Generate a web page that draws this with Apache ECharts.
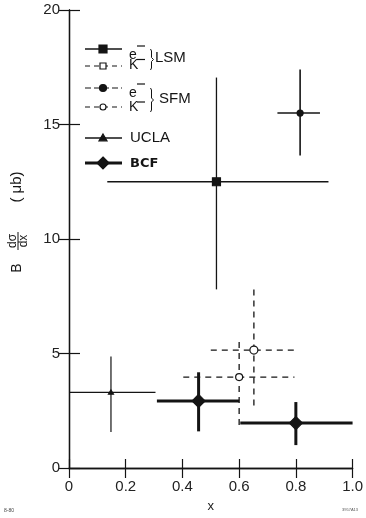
<!DOCTYPE html>
<html>
<head>
<meta charset="utf-8">
<script src="https://cdn.jsdelivr.net/npm/echarts@6/dist/echarts.min.js"></script>
<style>
  html, body { margin: 0; padding: 0; background: #fff; }
  #chart { width: 366px; height: 518px; }
</style>
</head>
<body>
<div id="chart"></div>
<script>
// Axis ticks
const xTickLabels = ['0', '0.2', '0.4', '0.6', '0.8', '1.0'];
const yTickLabels = ['0', '5', '10', '15', '20'];

// Each measurement row: [x, value, xLow, xHigh, valueLow, valueHigh]
const lsmElectron = [[0.52, 12.5, 0.135, 0.915, 7.8, 17.05]];
const lsmKaon     = [[0.652, 5.15, 0.50, 0.795, 2.65, 7.8]];
const sfmElectron = [[0.815, 15.5, 0.735, 0.885, 13.65, 17.4]];
const sfmKaon     = [[0.60, 3.97, 0.403, 0.795, 1.85, 5.5]];
const ucla        = [[0.148, 3.3, 0.0, 0.305, 1.57, 4.87]];
const bcf         = [[0.457, 2.93, 0.31, 0.60, 1.6, 4.18],
                     [0.80, 1.96, 0.604, 1.0, 1.0, 2.88]];

const INK = '#141414';
const FONT = '"Liberation Sans", Arial, sans-serif';

// Marker shapes shared by the plotted points and the key
function marker(kind, cx, cy, size, filled) {
  const style = { fill: filled ? INK : '#fff', stroke: INK, lineWidth: 1.2 };
  const h = size / 2;
  if (kind === 'square') {
    return { type: 'rect', shape: { x: cx - h, y: cy - h, width: size, height: size }, style, z2: 5 };
  }
  if (kind === 'circle') {
    return { type: 'circle', shape: { cx, cy, r: h }, style, z2: 5 };
  }
  if (kind === 'triangle') {
    return { type: 'polygon', shape: { points: [[cx, cy - h], [cx + h, cy + h * 0.7], [cx - h, cy + h * 0.7]] }, style, z2: 5 };
  }
  // diamond
  return { type: 'polygon', shape: { points: [[cx, cy - h], [cx + h, cy], [cx, cy + h], [cx - h, cy]] }, style, z2: 5 };
}

// Cross-shaped error bars with a marker at the central value
function errorBars(opt) {
  return function (params, api) {
    const x = api.value(0), y = api.value(1);
    const p = api.coord([x, y]);
    const l = api.coord([api.value(2), y]);
    const r = api.coord([api.value(3), y]);
    const b = api.coord([x, api.value(4)]);
    const t = api.coord([x, api.value(5)]);
    const ls = { stroke: INK, lineWidth: opt.width, lineDash: opt.dash || null, fill: null };
    return {
      type: 'group',
      children: [
        { type: 'line', shape: { x1: l[0], y1: l[1], x2: r[0], y2: r[1] }, style: ls },
        { type: 'line', shape: { x1: t[0], y1: t[1], x2: b[0], y2: b[1] }, style: ls },
        marker(opt.symbol, p[0], p[1], opt.size, opt.filled)
      ]
    };
  };
}

function errSeries(name, data, opt, z) {
  return {
    type: 'custom', name, data, z: z || 2,
    renderItem: errorBars(opt),
    encode: { x: 0, y: 1 },
    clip: false
  };
}

const DASH = [6, 5];

// Key (top-left inside the frame)
const keyRows = [
  { y: 49,  dash: null, width: 1.4, symbol: 'square',   size: 8,  filled: true },
  { y: 66,  dash: [5, 4], width: 1.2, symbol: 'square', size: 6,  filled: false },
  { y: 88,  dash: [6, 3], width: 1.2, symbol: 'circle', size: 7,  filled: true },
  { y: 107, dash: [5, 4], width: 1.2, symbol: 'circle', size: 6,  filled: false },
  { y: 138, dash: null, width: 1.4, symbol: 'triangle', size: 8,  filled: true },
  { y: 163, dash: null, width: 3,   symbol: 'diamond',  size: 12, filled: true }
];

const graphics = [];
keyRows.forEach(k => {
  graphics.push({ type: 'line', shape: { x1: 85, y1: k.y, x2: 122, y2: k.y },
    style: { stroke: INK, lineWidth: k.width, lineDash: k.dash } });
  graphics.push(marker(k.symbol, 103, k.y, k.size, k.filled));
});

function txt(x, y, text, size, extra) {
  return {
    type: 'text', x, y,
    style: Object.assign({ text, fill: INK, font: size + 'px ' + FONT, textAlign: 'left', textVerticalAlign: 'middle' }, extra || {})
  };
}

// particle labels with raised minus signs
[['e', 55, 46], ['K', 65, 59.5], ['e', 93, 84], ['K', 107.5, 102]].forEach(([s, y, my]) => {
  graphics.push(txt(129, y, s, 14));
  graphics.push({ type: 'line', shape: { x1: 137, y1: my, x2: 145, y2: my }, style: { stroke: INK, lineWidth: 1.2 } });
});

// braces grouping e- / K- pairs
function brace(top, bottom) {
  const m = (top + bottom) / 2;
  return {
    type: 'polyline',
    shape: { points: [[150.5, top], [151.5, top + 2], [151.5, m - 2], [153.5, m],
                      [151.5, m + 2], [151.5, bottom - 2], [150.5, bottom]] },
    style: { stroke: INK, lineWidth: 1, fill: null }
  };
}
graphics.push(brace(49, 70));
graphics.push(brace(88, 112));
graphics.push(txt(155, 58, 'LSM', 15));
graphics.push(txt(159, 99, 'SFM', 15));
graphics.push(txt(130, 138, 'UCLA', 15));
graphics.push(txt(130, 164, 'BCF', 13, { font: '900 13px "DejaVu Sans", sans-serif' }));

// vertical axis title: B dσ/dx (μb)
const rot = Math.PI / 2;
function rtxt(x, y, text, size) {
  return { type: 'text', x, y, rotation: rot,
    style: { text, fill: INK, font: size + 'px ' + FONT, textAlign: 'center', textVerticalAlign: 'middle' } };
}
graphics.push(rtxt(17, 268, 'B', 14));
graphics.push(rtxt(12.5, 241, 'dσ', 12));
graphics.push(rtxt(24, 241, 'dx', 12));
graphics.push({ type: 'line', shape: { x1: 18, y1: 232, x2: 18, y2: 250 }, style: { stroke: INK, lineWidth: 1 } });
graphics.push(rtxt(17, 187, '( μb)', 15));

// figure reference marks
graphics.push({ type: 'text', x: 4, y: 511, style: { text: '8-80', fill: '#444', font: '5px ' + FONT, textVerticalAlign: 'middle' } });
graphics.push({ type: 'text', x: 342, y: 510, style: { text: '3957A13', fill: '#555', font: '4px ' + FONT, textVerticalAlign: 'middle' } });

const axisLine = { show: true, lineStyle: { color: INK, width: 1.3 } };

const option = {
  backgroundColor: '#fff',
  animation: false,
  grid: { left: 69, right: 10, top: 10, bottom: 49 },
  xAxis: [
    {
      type: 'value', position: 'bottom', min: 0, max: 1, interval: 0.2,
      axisLine, splitLine: { show: false },
      axisTick: { inside: true, length: 9, lineStyle: { color: INK, width: 1.2 } },
      axisLabel: {
        margin: 11, color: '#222', fontSize: 15, fontFamily: FONT,
        formatter: v => xTickLabels[Math.round(v / 0.2)]
      },
      name: 'x', nameLocation: 'middle', nameGap: 32,
      nameTextStyle: { color: '#222', fontSize: 13, fontFamily: FONT }
    },
    {
      type: 'value', position: 'top', min: 0, max: 1, interval: 0.2,
      axisLine, splitLine: { show: false },
      axisTick: { inside: true, length: 10, lineStyle: { color: INK, width: 1.2 } },
      axisLabel: { show: false }
    }
  ],
  yAxis: [
    {
      type: 'value', position: 'left', min: 0, max: 20, interval: 5,
      axisLine, splitLine: { show: false },
      axisTick: { inside: true, length: 11, lineStyle: { color: INK, width: 1.2 } },
      axisLabel: {
        margin: 9, color: '#222', fontSize: 15, fontFamily: FONT,
        formatter: v => yTickLabels[Math.round(v / 5)]
      }
    },
    {
      type: 'value', position: 'right', min: 0, max: 20, interval: 5,
      axisLine, splitLine: { show: false },
      axisTick: { inside: true, length: 10, lineStyle: { color: INK, width: 1.2 } },
      axisLabel: { show: false }
    }
  ],
  series: [
    errSeries('LSM e-', lsmElectron, { width: 1.3, symbol: 'square', size: 8, filled: true }),
    errSeries('LSM K-', lsmKaon, { width: 1.3, dash: DASH, symbol: 'circle', size: 8, filled: false }),
    errSeries('SFM e-', sfmElectron, { width: 1.6, symbol: 'circle', size: 6, filled: true }),
    errSeries('SFM K-', sfmKaon, { width: 1.3, dash: DASH, symbol: 'circle', size: 7, filled: false }),
    errSeries('UCLA', ucla, { width: 1.2, symbol: 'triangle', size: 5, filled: true }),
    errSeries('BCF', bcf, { width: 3, symbol: 'diamond', size: 13, filled: true }, 4)
  ],
  graphic: graphics
};

const chart = echarts.init(document.getElementById('chart'), null, { renderer: 'canvas' });
chart.setOption(option);
</script>
</body>
</html>
